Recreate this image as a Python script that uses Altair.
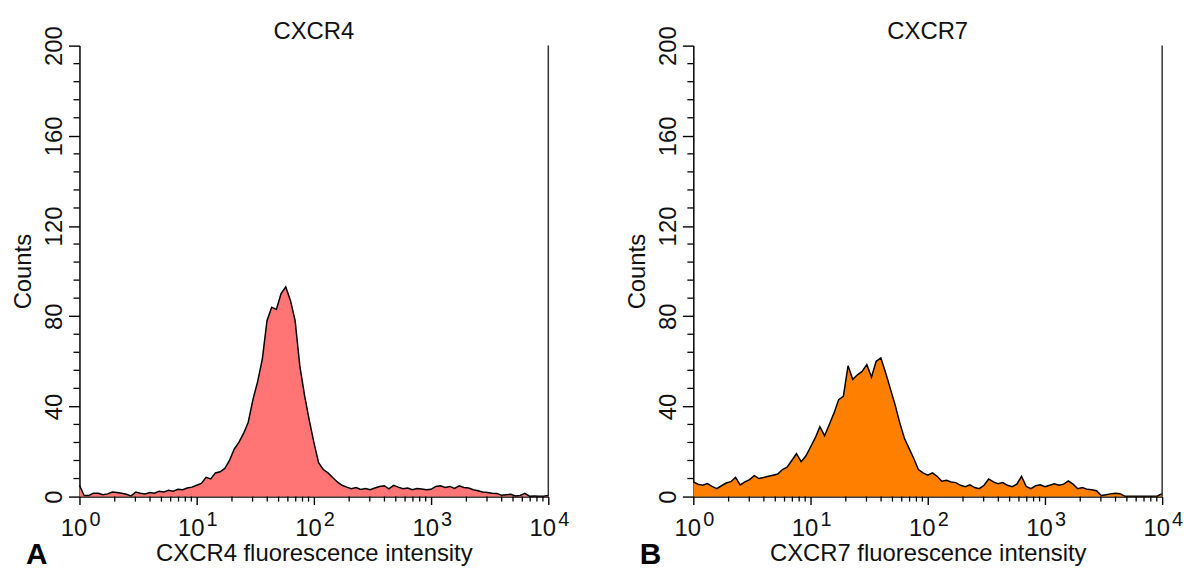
import altair as alt
import pandas as pd

# Histogram channels: 25 log-spaced channels per decade, from 10^0 to 10^4
CHANNELS_PER_DECADE = 25

cxcr4_counts = [
    5.0, 0.5, 0.5, 1.5, 1.5, 0.8, 1.2, 2.0, 1.8, 1.5,
    1.0, 0.3, 2.0, 1.5, 1.2, 1.8, 1.5, 2.4, 2.0, 2.8,
    2.4, 3.2, 3.0, 3.8, 4.2, 5.0, 5.8, 8.5, 7.8, 10.5,
    11.0, 12.5, 16.0, 21.0, 24.0, 28.0, 33.0, 43.0, 51.0, 61.0,
    78.0, 84.0, 83.0, 90.0, 93.0, 87.0, 78.0, 58.0, 45.0, 34.0,
    24.0, 15.0, 12.0, 10.5, 8.5, 6.5, 5.0, 4.2, 3.5, 4.0,
    3.2, 3.6, 3.0, 3.8, 4.5, 4.8, 3.4, 5.0, 4.2, 3.5,
    3.8, 3.0, 3.6, 3.4, 3.0, 3.2, 4.5, 4.8, 4.0, 4.5,
    3.6, 4.8, 4.0, 3.8, 3.0, 2.6, 2.0, 1.8, 1.5, 1.4,
    0.6, 0.8, 1.0, 0.3, 0.5, 1.4, 0.2, 0.3, 0.2, 0.2,
    0.5,
]

cxcr7_counts = [
    6.5, 5.5, 5.0, 5.8, 4.5, 3.5, 4.8, 6.0, 6.6, 8.5,
    5.2, 6.5, 7.5, 9.3, 8.0, 8.5, 9.0, 9.5, 10.0, 12.0,
    13.0, 16.0, 19.0, 15.5, 18.0, 22.0, 26.0, 31.0, 27.0, 32.0,
    37.0, 43.0, 44.5, 58.0, 52.0, 54.0, 55.5, 58.5, 53.0, 60.0,
    61.5, 55.0, 48.0, 41.0, 33.0, 26.0, 21.5, 17.0, 12.0, 10.5,
    9.5, 10.5, 9.0, 6.8, 7.2, 6.5, 6.2, 5.0, 4.4, 5.2,
    4.0, 3.5, 5.0, 7.8, 6.5, 5.7, 6.2, 5.0, 4.4, 5.5,
    9.0, 4.5, 3.5, 4.8, 5.2, 4.4, 5.0, 5.7, 5.0, 5.5,
    7.0, 5.5, 3.5, 4.0, 3.2, 3.0, 2.6, 0.5, 0.8, 1.2,
    1.5, 1.3, 0.2, 0.2, 0.2, 0.2, 0.2, 0.2, 0.2, 0.3,
    1.3,
]

panel_titles = ["CXCR4", "CXCR7"]
x_titles = ["CXCR4 fluorescence intensity", "CXCR7 fluorescence intensity"]
panel_letters = ["A", "B"]
fill_colors = ["#FF7575", "#FF8000"]

y_major = [0, 40, 80, 120, 160, 200]
y_minor = [8, 16, 24, 32, 48, 56, 64, 72, 88, 96, 104, 112,
           128, 136, 144, 152, 168, 176, 184, 192]
x_major = [1, 10, 100, 1000, 10000]
x_exponents = ["0", "1", "2", "3", "4"]
x_minor = [2, 3, 4, 5, 6, 7, 8, 9,
           20, 30, 40, 50, 60, 70, 80, 90,
           200, 300, 400, 500, 600, 700, 800, 900,
           2000, 3000, 4000, 5000, 6000, 7000, 8000, 9000]

FONT = "Liberation Sans"
TXT = "#111111"
W, H = 472, 454

x_scale = alt.Scale(type="log", domain=[1, 10000], nice=False)
y_scale = alt.Scale(domain=[0, 200], nice=False)

x_axis = alt.Axis(values=x_major, labelExpr="'10'", tickSize=8, labelOffset=-6,
                  labelPadding=12, titlePadding=1, labelFlush=False)
y_axis = alt.Axis(values=y_major, tickSize=11, labelAngle=-90,
                  labelPadding=2, titlePadding=7)


def panel(counts, title, xtitle, letter, fill):
    df = pd.DataFrame({
        "intensity": [10 ** (i / CHANNELS_PER_DECADE) for i in range(len(counts))],
        "count": counts,
    })
    X = lambda: alt.X("intensity:Q", scale=x_scale, title=xtitle, axis=x_axis)
    Y = lambda: alt.Y("count:Q", scale=y_scale, title="Counts", axis=y_axis)

    area = alt.Chart(df).mark_area(
        color=fill, opacity=1, fillOpacity=1, interpolate="linear",
        line={"color": "black", "strokeWidth": 1.5},
    ).encode(x=X(), y=Y())
    xminor = alt.Chart(pd.DataFrame({"intensity": x_minor})).mark_rule(
        color="black", strokeWidth=1.3
    ).encode(x=X(), y=alt.value(H), y2=alt.value(H + 5))
    yminor = alt.Chart(pd.DataFrame({"count": y_minor})).mark_rule(
        color="black", strokeWidth=1.3
    ).encode(y=Y(), x=alt.value(0), x2=alt.value(-6))
    sups = alt.Chart(pd.DataFrame({"intensity": x_major, "exp": x_exponents})).mark_text(
        font=FONT, fontSize=20, color=TXT, align="left", baseline="top", dx=10,
    ).encode(x=X(), y=alt.value(H + 14), text="exp:N")
    border = alt.Chart(pd.DataFrame({"b": [0]})).mark_rule(
        color="#333333", strokeWidth=1.5
    ).encode(x=alt.value(W), y=alt.value(0), y2=alt.value(H))
    head = alt.Chart(pd.DataFrame({"t": [title]})).mark_text(
        font=FONT, fontSize=24, color=TXT, align="center", baseline="alphabetic",
    ).encode(text="t:N", x=alt.value(W / 2), y=alt.value(-7))
    label = alt.Chart(pd.DataFrame({"letter": [letter]})).mark_text(
        font=FONT, fontSize=30, fontWeight="bold", color="black",
        align="center", baseline="alphabetic",
    ).encode(text="letter:N", x=alt.value(-43), y=alt.value(H + 68))
    return alt.layer(area, xminor, yminor, sups, border, head, label).properties(
        width=W, height=H,
    )


left = panel(cxcr4_counts, panel_titles[0], x_titles[0], panel_letters[0], fill_colors[0])
right = panel(cxcr7_counts, panel_titles[1], x_titles[1], panel_letters[1], fill_colors[1])

chart = alt.hconcat(left, right, spacing=56).properties(
    padding={"left": 12, "top": 18, "right": 2, "bottom": 0}
).configure_view(stroke=None).configure_axis(
    grid=False,
    domainColor="black", domainWidth=1.5,
    tickColor="black", tickWidth=1.4,
    labelFont=FONT, labelFontSize=24, labelColor=TXT,
    titleFont=FONT, titleFontSize=24, titleFontWeight="normal", titleColor=TXT,
)

chart.save("out.html", embed_options={"renderer": "svg", "actions": False})
